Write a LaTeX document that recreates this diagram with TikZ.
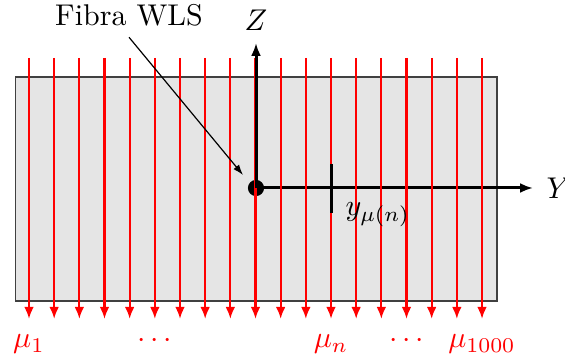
\documentclass[tikz,border=0pt]{standalone}
\usetikzlibrary{arrows.meta}
\begin{document}
\begin{tikzpicture}[x=0.3333pt,y=-0.3333pt,
  slab/.style={draw=black!75,fill=black!10,line width=0.4pt},
  muon/.style={red,line width=0.75pt,-{Latex[length=4pt,width=3.2pt]}},
  axis/.style={black,line width=1pt,-{Latex[length=4.3pt,width=3.3pt]}},
  mulabel/.style={red,anchor=base,inner sep=0pt},
  lbl/.style={anchor=base}]
\useasboundingbox (0,0) rectangle (565,362);
\draw[slab] (15.5,77) rectangle (497,301);
\coordinate (O) at (256,188);
\coordinate (Ztip) at (256,43);
\coordinate (Ytip) at (533,188);
\draw[axis] (O) -- (Ytip);
\fill[black] (O) circle (2.7pt);
\foreach \i in {0,...,18}{
  \coordinate (top\i) at ({29+25.167*\i},58);
  \coordinate (bot\i) at ({29+25.167*\i},319);
  \draw[muon] (top\i) -- (bot\i);
}
\draw[axis] (O) -- (Ztip);
\coordinate (tickA) at (331,164);
\coordinate (tickB) at (331,213);
\draw[black,line width=1pt] (tickA) -- (tickB);
\node[lbl] (zl) at (256,31) {$Z$};
\node[anchor=base west] (yl) at (536,199) {$Y$};
\node[anchor=base west] (yl2) at (335,216) {$y_{\mu(n)}$};
\node[lbl] (fibra) at (129,26) {Fibra WLS};
\coordinate (fibend) at (243,175);
\draw[black,line width=0.4pt,-{Latex[length=3.5pt,width=2.4pt]}] (fibra.south) -- (fibend);
\node[mulabel] (m1) at (29,348) {$\mu_1$};
\node[mulabel] (d1) at (154.8,348) {$\cdots$};
\node[mulabel] (mn) at (331,348) {$\mu_n$};
\node[mulabel] (d2) at (406.5,348) {$\cdots$};
\node[mulabel] (mk) at (482,348) {$\mu_{1000}$};
\end{tikzpicture}
\end{document}
